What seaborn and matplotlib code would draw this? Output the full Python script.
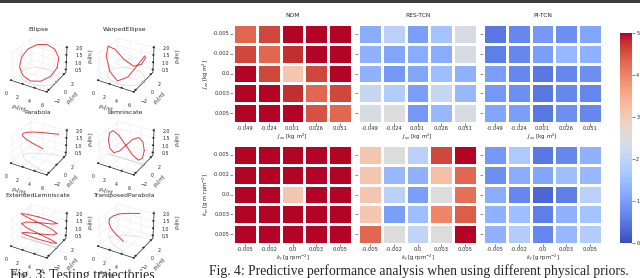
import numpy as np
import pandas as pd
import matplotlib
matplotlib.use('Agg')
import matplotlib.pyplot as plt
import matplotlib.ticker as mticker
import seaborn as sns

sns.set_theme(style='white')
plt.rcParams['font.family'] = ['DejaVu Sans']
plt.rcParams['mathtext.fontset'] = 'dejavusans'

# ---- trajectories (Fig. 3) ----
traj_names = ['Ellipse', 'WarpedEllipse', 'Parabola', 'Lemniscate',
              'ExtendedLemniscate', 'TransposedParabola']

ell_x = [6.0, 5.6, 4.5, 3.0, 1.5, 0.4, 0.0, 0.4, 1.5, 3.0, 4.5, 5.6, 6.0]
ell_y = [0.0, 1.0, 1.7, 2.0, 1.7, 1.0, 0.0, -1.0, -1.7, -2.0, -1.7, -1.0, 0.0]
ell_z = [1.25, 1.63, 1.9, 2.0, 1.9, 1.63, 1.25, 0.88, 0.6, 0.5, 0.6, 0.88, 1.25]

wel_x = [6.0, 5.6, 4.5, 3.0, 1.5, 0.4, 0.0, 0.4, 1.5, 3.0, 4.5, 5.6, 6.0]
wel_y = [0.0, 1.0, 1.7, 2.0, 1.7, 1.0, 0.0, -1.0, -1.7, -2.0, -1.7, -1.0, 0.0]
wel_z = [2.0, 1.63, 0.88, 0.5, 0.88, 1.63, 2.0, 1.63, 0.88, 0.5, 0.88, 1.63, 2.0]

par_x = [5.0, 3.0, 1.5, 0.6, 0.3, 0.6, 1.5, 3.0, 5.0]
par_y = [-2.0, -1.5, -1.0, -0.5, 0.0, 0.5, 1.0, 1.5, 2.0]
par_z = [1.75, 1.75, 1.75, 1.75, 1.75, 1.75, 1.75, 1.75, 1.75]

lem_x = [6.0, 5.77, 5.12, 4.15, 3.0, 1.85, 0.88, 0.23, 0.0, 0.23, 0.88, 1.85,
         3.0, 4.15, 5.12, 5.77, 6.0]
lem_y = [0.0] * 17
lem_z = [1.25, 1.78, 2.0, 1.78, 1.25, 0.72, 0.5, 0.72, 1.25, 1.78, 2.0, 1.78,
         1.25, 0.72, 0.5, 0.72, 1.25]

elm_x = [3, 5.12, 6, 5.12, 3, 0.88, 0, 0.88] * 3 + [3]
elm_y = [0.0] * 25
elm_z = [2.0, 1.97, 1.90, 1.78, 1.63, 1.44, 1.25, 1.06, 0.88, 0.72, 0.60, 0.53,
         0.5, 0.53, 0.60, 0.72, 0.88, 1.06, 1.25, 1.44, 1.63, 1.78, 1.90, 1.97, 2.0]

tpa_x = [4.0, 2.4, 1.2, 0.5, 0.2, 0.5, 1.2, 2.4, 4.0]
tpa_y = [-2.0, -1.5, -1.0, -0.5, 0.0, 0.5, 1.0, 1.5, 2.0]
tpa_z = [1.0, 1.15, 1.3, 1.45, 1.6, 1.7, 1.8, 1.85, 1.9]

trajs = [(ell_x, ell_y, ell_z), (wel_x, wel_y, wel_z), (par_x, par_y, par_z),
         (lem_x, lem_y, lem_z), (elm_x, elm_y, elm_z), (tpa_x, tpa_y, tpa_z)]

# ---- heatmaps (Fig. 4) ----
jxx_labels = ['-0.049', '-0.024', '0.001', '0.026', '0.051']
jzz_labels = ['-0.005', '-0.002', '0.0', '0.003', '0.005']
kf_labels = ['-0.005', '-0.002', '0.0', '0.003', '0.005']
km_labels = ['-0.005', '-0.002', '0.0', '0.003', '0.005']
methods = ['NOM', 'RES-TCN', 'PI-TCN']

nom_inertia = [[4.3, 4.6, 5.0, 5.0, 5.0],
               [4.6, 4.3, 4.8, 5.0, 5.0],
               [5.0, 4.6, 3.1, 4.6, 5.0],
               [5.0, 5.0, 4.8, 4.3, 4.6],
               [5.0, 5.0, 5.0, 4.5, 4.3]]
res_inertia = [[1.2, 1.9, 1.0, 1.6, 2.4],
               [1.3, 1.1, 1.2, 1.2, 2.4],
               [1.3, 0.9, 1.1, 1.5, 1.3],
               [2.1, 1.8, 1.0, 2.1, 1.4],
               [2.4, 2.5, 0.9, 1.4, 2.4]]
pi_inertia = [[0.5, 0.7, 0.9, 0.8, 1.1],
              [0.6, 0.7, 1.0, 1.4, 1.3],
              [1.0, 0.7, 0.5, 0.7, 0.8],
              [0.9, 0.8, 0.5, 0.7, 0.7],
              [1.1, 1.0, 0.5, 0.8, 0.7]]

nom_coef = [[5.0, 5.0, 5.0, 5.0, 5.0],
            [5.0, 5.0, 5.0, 5.0, 5.0],
            [5.0, 5.0, 3.1, 5.0, 5.0],
            [5.0, 5.0, 5.0, 5.0, 5.0],
            [5.0, 5.0, 5.0, 5.0, 5.0]]
res_coef = [[3.1, 2.5, 1.9, 4.6, 5.0],
            [3.1, 1.4, 1.3, 3.2, 4.3],
            [3.1, 1.9, 1.0, 2.5, 4.2],
            [3.1, 1.0, 1.5, 4.0, 4.4],
            [4.3, 2.5, 2.0, 2.5, 5.0]]
pi_coef = [[0.9, 1.7, 0.5, 0.7, 1.3],
           [0.8, 1.2, 1.1, 1.5, 1.4],
           [1.2, 0.7, 0.3, 0.6, 1.9],
           [1.3, 1.5, 0.6, 1.3, 1.6],
           [1.3, 1.8, 0.7, 1.4, 1.8]]

W, H = 640, 278
fig = plt.figure(figsize=(6.4, 2.78), dpi=100)
fig.patch.set_facecolor('white')

def rect(x0, y0, w, h):
    # pixel box (top-left origin) -> figure fraction
    return [x0 / W, (H - y0 - h) / H, w / W, h / H]

# dark rule across the top
fig.add_artist(plt.Rectangle((0, 1 - 2.5 / H), 1, 2.5 / H, transform=fig.transFigure,
                             color='#3c3c3c', lw=0))

red = '#dc3f42'
zfloor = 0.3
for i, (name, (x, y, z)) in enumerate(zip(traj_names, trajs)):
    r, c = divmod(i, 2)
    ax = fig.add_axes(rect(1 + 87 * c, 32 + 83 * r, 74, 64), projection='3d')
    ax.plot(x, y, [zfloor] * len(x), color='#d9d9d9', lw=0.5)
    ax.plot(x, y, z, color=red, lw=0.7)
    ax.set_xlim(0, 6)
    ax.set_ylim(-2.5, 2.5)
    ax.set_zlim(zfloor, 2.1)
    ax.set_xticks([0, 2, 4, 6])
    ax.set_yticks([-2, 0, 2])
    ax.set_zticks([0.5, 1.0, 1.5, 2.0])
    ax.zaxis.set_major_formatter(mticker.FormatStrFormatter('%.1f'))
    ax.tick_params(labelsize=3.4, pad=-2.5)
    ax.set_xlabel('$p_x [m]$', fontsize=3.5, labelpad=-10)
    ax.set_ylabel('$p_y [m]$', fontsize=3.5, labelpad=-10)
    ax.set_zlabel('$p_z [m]$', fontsize=3.5, labelpad=-10)
    for axis in (ax.xaxis, ax.yaxis, ax.zaxis):
        axis.set_pane_color((1, 1, 1, 0))
        axis._axinfo['grid']['color'] = '#e6e6e6'
        axis._axinfo['grid']['linewidth'] = 0.3
        axis._axinfo['tick']['inward_factor'] = 0.0
        axis._axinfo['tick']['outward_factor'] = 0.2
        axis.line.set_linewidth(0.5)
    ax.set_title(name, fontsize=4.4, pad=0)

lefts = [233, 358, 483]
cax = fig.add_axes(rect(620, 33, 12, 210))
rows = [(24, 99, [nom_inertia, res_inertia, pi_inertia], jxx_labels, jzz_labels,
         '$J_{xx}$ [kg m$^2$]', '$J_{zz}$ [kg m$^2$]'),
        (145, 99, [nom_coef, res_coef, pi_coef], kf_labels, km_labels,
         '$k_f$ [g rpm$^{-2}$]', '$k_m$ [g m rpm$^{-2}$]')]
for ri, (top, h, mats, xl, yl, xlab, ylab) in enumerate(rows):
    for ci, mat in enumerate(mats):
        ax = fig.add_axes(rect(lefts[ci], top, 119, h))
        df = pd.DataFrame(mat, index=yl, columns=xl)
        first = (ri == 0 and ci == 0)
        sns.heatmap(df, ax=ax, cmap='coolwarm', vmin=0, vmax=5, linewidths=1,
                    linecolor='white', cbar=first, cbar_ax=cax if first else None)
        ax.tick_params(left=True, bottom=True, length=2, width=0.4,
                       labelsize=3.7, pad=0.5, rotation=0)
        ax.set_xlabel(xlab, fontsize=3.9, labelpad=0)
        if ci == 0:
            ax.set_ylabel(ylab, fontsize=3.9, labelpad=1)
        else:
            ax.set_yticklabels([])
            ax.set_ylabel('')
        if ri == 0:
            ax.set_title(methods[ci], fontsize=4.3, pad=5)

cax.tick_params(right=True, length=2, width=0.4, labelsize=3.6, pad=1)
for s in cax.spines.values():
    s.set_visible(False)

cap = dict(family='Liberation Serif', va='baseline')
fig.text(10 / W, (H - 279) / H, 'Fig. 3: Testing trajectories', fontsize=9.9, **cap)
fig.text(209 / W, (H - 275) / H,
         'Fig. 4: Predictive performance analysis when using different physical priors.',
         fontsize=9.8, **cap)

fig.savefig('out.png', dpi=100)
